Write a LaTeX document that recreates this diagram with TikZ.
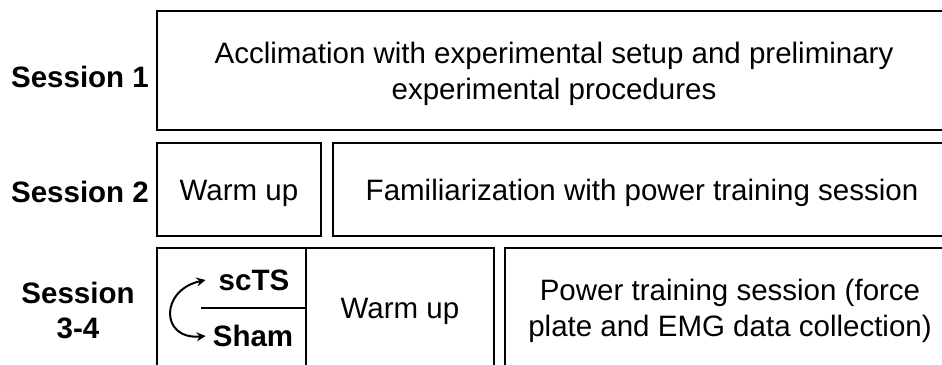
\documentclass[tikz,border=0pt]{standalone}
\usepackage{fontspec}
\setmainfont{Liberation Sans}
\usetikzlibrary{arrows.meta}
\tikzset{
  frame/.style={draw=black, line width=2.8pt},
  lbl/.style={font=\fontsize{29.5}{36.5}\selectfont, align=center, inner sep=0pt},
  sess/.style={lbl, font=\fontsize{29.5}{35}\selectfont\bfseries},
  swap/.style={line width=2pt, {Stealth[length=9pt,width=9pt]}-{Stealth[length=9pt,width=9pt]}},
}
\begin{document}
\begin{tikzpicture}[x=1pt,y=-1pt]
  \useasboundingbox (0,0) rectangle (942,364);
  \clip (0,0) rectangle (942,364);

  % session labels
  \node[sess] (sess1) at (80,77) {Session 1};
  \node[sess] (sess2) at (80,192) {Session 2};
  \node[sess] (sess3) at (78,310) {Session\\3-4};

  % session 1
  \draw[frame] (157,11) rectangle (960,130);
  \node[lbl] (accl) at (554,74) {Acclimation with experimental setup and preliminary\\experimental procedures};

  % session 2
  \draw[frame] (157,143) rectangle (321,236);
  \draw[frame] (333,143) rectangle (960,236);
  \node[lbl] (warm2) at (239,193) {Warm up};
  \node[lbl] (fam) at (642,193) {Familiarization with power training session};

  % session 3-4
  \draw[frame] (157,248) rectangle (494,390);
  \draw[frame] (306,248) -- (306,390);
  \draw[frame] (201,308) -- (306,308);
  \draw[frame] (505,248) rectangle (960,390);
  \node[sess] (scts) at (254,280) {scTS};
  \node[sess] (sham) at (253,336) {Sham};
  \node[lbl] (warm3) at (400,311) {Warm up};
  \node[lbl] (power) at (730,311) {Power training session (force\\plate and EMG data collection)};

  % counterbalanced order of the two conditions
  \draw[swap] ([xshift=-13pt]scts.west) .. controls (160,290) and (160,340) .. ([xshift=-7pt]sham.west);
\end{tikzpicture}
\end{document}
